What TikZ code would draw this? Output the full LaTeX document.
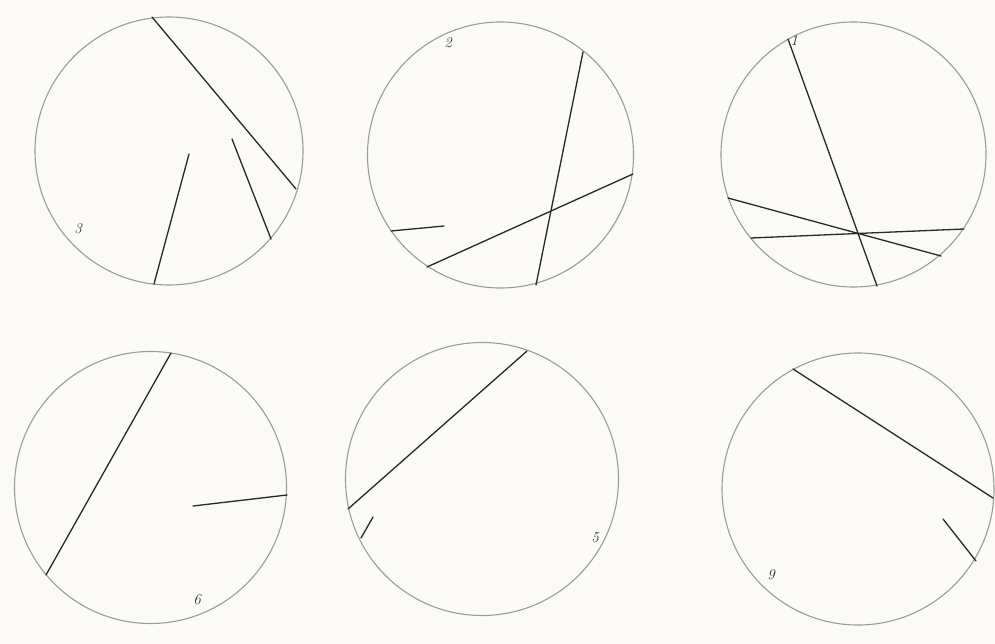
\documentclass[tikz,border=0pt]{standalone}
\definecolor{paper}{RGB}{251,250,247}
\definecolor{rimgray}{RGB}{155,155,155}
\definecolor{inkdark}{RGB}{40,40,40}
\definecolor{numgray}{RGB}{50,50,50}
\begin{document}
\begin{tikzpicture}[x=1pt,y=-1pt,
  rim/.style={draw=rimgray, line width=1.1pt},
  chord/.style={draw=inkdark, line width=1.3pt, line cap=round},
  num/.style={font=\fontsize{15}{15}\selectfont\itshape, text=numgray, inner sep=0pt}]
\fill[paper] (0,0) rectangle (995,644);
\useasboundingbox (0,0) rectangle (995,644);
% circle 3 (top left)
\draw[rim] (169,151) circle[radius=134];
\coordinate (a1) at (152,17); \coordinate (a2) at (296,189);
\coordinate (a3) at (189,154); \coordinate (a4) at (154,284);
\coordinate (a5) at (232,139); \coordinate (a6) at (271,239);
\draw[chord] (a1) -- (a2); \draw[chord] (a3) -- (a4); \draw[chord] (a5) -- (a6);
\node[num] (n3) at (78,229) {3};
% circle 2 (top middle)
\draw[rim] (500.5,155) circle[radius=133];
\coordinate (b1) at (583,52); \coordinate (b2) at (536,285);
\coordinate (b3) at (633,174); \coordinate (b4) at (427,267);
\coordinate (b5) at (391,231); \coordinate (b6) at (444,226);
\draw[chord] (b1) -- (b2); \draw[chord] (b3) -- (b4); \draw[chord] (b5) -- (b6);
\node[num] (n2) at (448,43) {2};
% circle 1 (top right)
\draw[rim] (853.5,154.5) circle[radius=132.5];
\coordinate (c1) at (788,39); \coordinate (c2) at (877,286);
\coordinate (c3) at (728,198); \coordinate (c4) at (941,256);
\coordinate (c5) at (751,238); \coordinate (c6) at (964,229);
\draw[chord] (c1) -- (c2); \draw[chord] (c3) -- (c4); \draw[chord] (c5) -- (c6);
\node[num] (n1) at (794,41) {1};
% circle 6 (bottom left)
\draw[rim] (150.5,487.5) circle[radius=136];
\coordinate (d1) at (171,353); \coordinate (d2) at (46,575);
\coordinate (d3) at (193,506); \coordinate (d4) at (287,495);
\draw[chord] (d1) -- (d2); \draw[chord] (d3) -- (d4);
\node[num] (n6) at (197,600) {6};
% circle 5 (bottom middle)
\draw[rim] (482,479) circle[radius=136.5];
\coordinate (e1) at (527,351); \coordinate (e2) at (348,509);
\coordinate (e3) at (361,538); \coordinate (e4) at (373,517);
\draw[chord] (e1) -- (e2); \draw[chord] (e3) -- (e4);
\node[num] (n5) at (595,538) {5};
% circle 9 (bottom right)
\draw[rim] (858,489) circle[radius=136];
\coordinate (f1) at (793,369); \coordinate (f2) at (993,498);
\coordinate (f3) at (943,519); \coordinate (f4) at (976,561);
\draw[chord] (f1) -- (f2); \draw[chord] (f3) -- (f4);
\node[num] (n9) at (771,575) {9};
\end{tikzpicture}
\end{document}
